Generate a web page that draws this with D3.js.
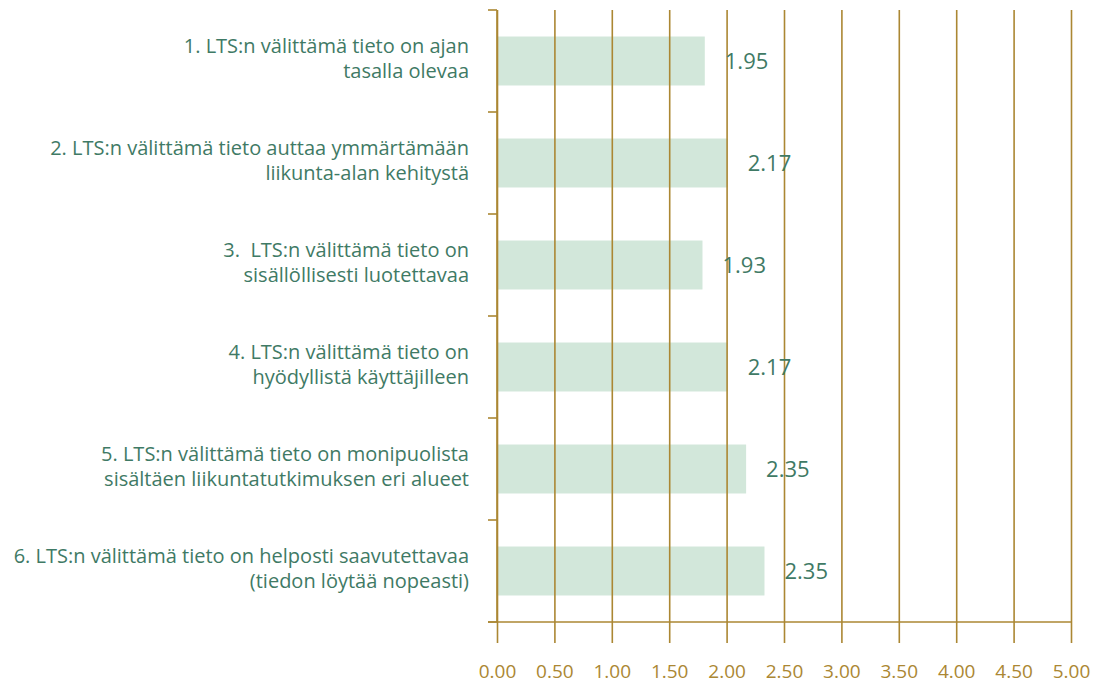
<!DOCTYPE html>
<html>
<head>
<meta charset="utf-8">
<script src="https://cdn.jsdelivr.net/npm/d3@7"></script>
<style>
  html, body { margin: 0; padding: 0; background: #fff; }
  svg { display: block; }
  .cat { white-space: pre; }
</style>
</head>
<body>
<svg id="chart" width="1095" height="684"></svg>
<script>
// statements, two lines each
const categories = [
	['1. LTS:n välittämä tieto on ajan', 'tasalla olevaa'],
	['2. LTS:n välittämä tieto auttaa ymmärtämään', 'liikunta-alan kehitystä'],
	['3.  LTS:n välittämä tieto on', 'sisällöllisesti luotettavaa'],
	['4. LTS:n välittämä tieto on', 'hyödyllistä käyttäjilleen'],
	['5. LTS:n välittämä tieto on monipuolista', 'sisältäen liikuntatutkimuksen eri alueet'],
	['6. LTS:n välittämä tieto on helposti saavutettavaa', '(tiedon löytää nopeasti)'],
];
// bar lengths as drawn in the picture
const barValues = [1.81, 2.01, 1.79, 2.01, 2.17, 2.33];
// the numbers printed next to the bars
const valueLabels = ['1.95', '2.17', '1.93', '2.17', '2.35', '2.35'];
const xTicks = [0, 0.5, 1, 1.5, 2, 2.5, 3, 3.5, 4, 4.5, 5];

const gold = '#ab8733';
const textGreen = '#3f7a65';
const barFill = '#d2e7da';

const svg = d3.select('#chart');
const plotLeft = 497, plotRight = 1071, plotTop = 10, plotBottom = 622;

const x = d3.scaleLinear().domain([0, 5]).range([plotLeft, plotRight]);
const y = d3.scaleBand()
	.domain(d3.range(categories.length))
	.range([plotTop, plotBottom])
	.paddingInner(0.52)
	.paddingOuter(0.26);

// bars go under the grid
svg.append('g').selectAll('rect')
	.data(barValues)
	.enter().append('rect')
		.attr('x', x(0))
		.attr('y', (d, i) => y(i))
		.attr('width', d => x(d) - x(0))
		.attr('height', y.bandwidth())
		.attr('fill', barFill);

// vertical grid + ticks below the axis
const grid = svg.append('g')
	.attr('transform', `translate(0,${plotTop})`)
	.call(d3.axisBottom(x)
		.tickValues(xTicks)
		.tickSize(plotBottom - plotTop + 21)
		.tickFormat(d3.format('.2f'))
		.tickPadding(22));
grid.select('.domain').remove();
grid.selectAll('line')
	.attr('stroke', gold)
	.attr('stroke-width', 1.6);
grid.selectAll('text')
	.attr('fill', gold)
	.attr('font-family', '"Open Sans", sans-serif')
	.attr('font-size', 19);

// x axis line
svg.append('line')
	.attr('x1', plotLeft - 9).attr('x2', plotRight)
	.attr('y1', plotBottom).attr('y2', plotBottom)
	.attr('stroke', gold).attr('stroke-width', 1.6);

// y axis with ticks at band edges
const step = y.step();
const yEdges = d3.range(categories.length + 1).map(i => plotTop + i * step);
svg.append('line')
	.attr('x1', plotLeft).attr('x2', plotLeft)
	.attr('y1', plotTop).attr('y2', plotBottom)
	.attr('stroke', gold).attr('stroke-width', 1.6);
svg.append('g').selectAll('line')
	.data(yEdges)
	.enter().append('line')
		.attr('x1', plotLeft - 9).attr('x2', plotLeft)
		.attr('y1', d => d).attr('y2', d => d)
		.attr('stroke', gold).attr('stroke-width', 1.6);

// category labels
const catText = svg.append('g').selectAll('text')
	.data(categories)
	.enter().append('text')
		.attr('class', 'cat')
		.attr('x', 469)
		.attr('text-anchor', 'end')
		.attr('fill', textGreen)
		.attr('font-family', '"Open Sans", sans-serif')
		.attr('font-size', 20);
catText.each(function(lines, i) {
	const c = y(i) + y.bandwidth() / 2;
	d3.select(this).selectAll('tspan')
		.data(lines)
		.enter().append('tspan')
			.attr('x', 469)
			.attr('y', (d, j) => c - 8 + j * 24.5)
			.text(d => d);
});

// value labels
svg.append('g').selectAll('text')
	.data(barValues)
	.enter().append('text')
		.attr('x', d => x(d) + 20)
		.attr('y', (d, i) => y(i) + y.bandwidth() / 2 + 8)
		.attr('fill', textGreen)
		.attr('font-family', '"Open Sans", sans-serif')
		.attr('font-size', 22)
		.text((d, i) => valueLabels[i]);
</script>
</body>
</html>
